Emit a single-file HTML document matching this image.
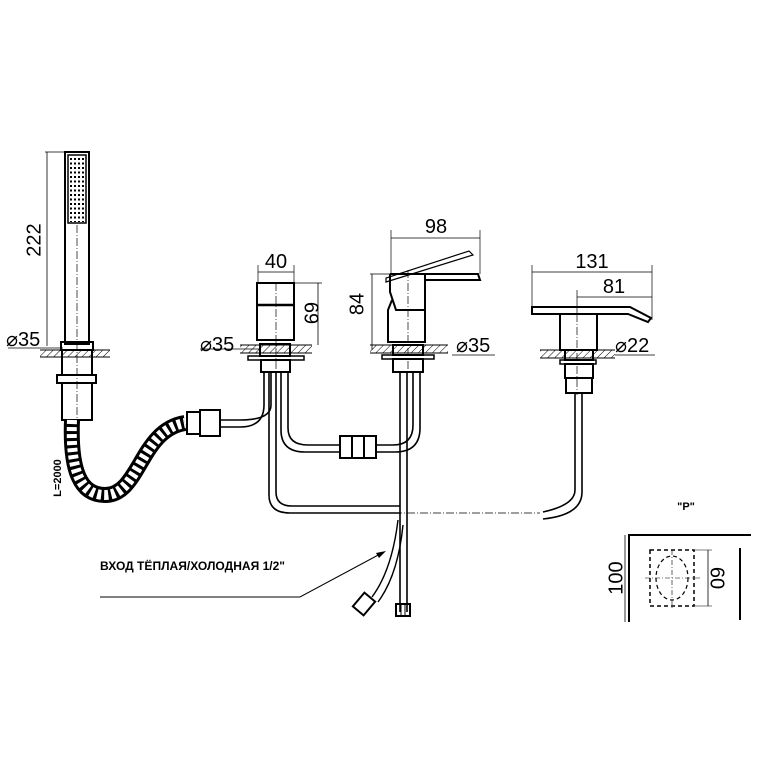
<!DOCTYPE html>
<html><head><style>html,body{margin:0;padding:0;background:#fff}svg{display:block}</style></head>
<body>
<svg width="768" height="768" viewBox="0 0 768 768" xmlns="http://www.w3.org/2000/svg" font-family="Liberation Sans, sans-serif">
<defs>
<pattern id="h" width="5" height="5" patternUnits="userSpaceOnUse" patternTransform="rotate(45)"><line x1="0" y1="0" x2="0" y2="5" stroke="#000" stroke-width="1"/></pattern>
</defs>
<g fill="none" stroke="#000" stroke-width="1">
<rect x="65" y="152" width="24" height="192" stroke-width="2"/>
<rect x="68" y="155" width="18" height="68" stroke-width="1.5"/>
<g stroke-width="2" stroke-dasharray="2,2.5">
<line x1="71" y1="158" x2="71" y2="222"/><line x1="75" y1="158" x2="75" y2="222"/><line x1="79" y1="158" x2="79" y2="222"/><line x1="83" y1="158" x2="83" y2="222"/>
</g>
<line x1="77" y1="225" x2="77" y2="420" stroke-dasharray="8,2,1,2" stroke-width="0.7"/>
<line x1="45" y1="152" x2="65" y2="152" stroke-width="0.7"/>
<line x1="47" y1="152" x2="47" y2="346" stroke-width="0.8"/>
<line x1="8" y1="348" x2="63" y2="348" stroke-width="0.8"/>
<rect x="40" y="350" width="70" height="7" fill="url(#h)" stroke="none"/>
<line x1="40" y1="350" x2="110" y2="350"/><line x1="40" y1="357" x2="110" y2="357"/>
<rect x="61" y="342" width="32" height="8" stroke-width="2"/>
<rect x="62" y="350" width="30" height="25" stroke-width="2"/>
<rect x="57" y="375" width="39" height="8" stroke-width="2"/>
<rect x="62" y="383" width="30" height="37" stroke-width="2"/>
<path d="M72 420 C70 470,80 495,105 495 C140 495,140 430,185 423" stroke-width="16" stroke="#000"/>
<path d="M72 420 C70 470,80 495,105 495 C140 495,140 430,185 423" stroke-width="10" stroke="#fff" stroke-dasharray="4,3"/>
<rect x="187" y="412" width="13" height="22" stroke-width="2"/>
<rect x="200" y="410" width="20" height="26" stroke-width="2"/>
<rect x="257" y="283" width="37" height="57" stroke-width="2"/>
<line x1="257" y1="305" x2="294" y2="305" stroke-width="2.5"/>
<line x1="276" y1="283" x2="276" y2="370" stroke-dasharray="8,2,1,2" stroke-width="0.7"/>
<line x1="258" y1="265" x2="258" y2="283" stroke-width="0.7"/><line x1="294" y1="265" x2="294" y2="283" stroke-width="0.7"/>
<line x1="258" y1="272" x2="294" y2="272" stroke-width="0.8"/>
<line x1="294" y1="283" x2="322" y2="283" stroke-width="0.7"/>
<line x1="318" y1="283" x2="318" y2="345" stroke-width="0.8"/>
<line x1="200" y1="349" x2="260" y2="349" stroke-width="0.8"/>
<rect x="240" y="345" width="72" height="8" fill="url(#h)" stroke="none"/>
<line x1="240" y1="345" x2="312" y2="345"/><line x1="240" y1="353" x2="312" y2="353"/>
<rect x="260" y="344" width="30" height="12" stroke-width="2"/>
<rect x="248" y="356" width="56" height="4" stroke-width="1.5"/>
<rect x="261" y="360" width="29" height="12" stroke-width="2"/>
<path d="M264 372 L264 405 Q264 427 240 427 L220 427" stroke-width="1.6"/>
<path d="M271 372 L271 405 Q271 420 240 420 L220 420" stroke-width="1.6"/>
<path d="M269 372 L269 495 Q269 513 290 513 L400 513" stroke-width="1.6"/>
<path d="M276 372 L276 492 Q276 506 292 506 L400 506" stroke-width="1.6"/>
<path d="M281 372 L281 430 Q281 452 305 452 L340 452" stroke-width="1.6"/>
<path d="M288 372 L288 428 Q288 445 308 445 L340 445" stroke-width="1.6"/>
<rect x="340" y="436" width="36" height="22" stroke-width="2"/>
<line x1="352" y1="436" x2="352" y2="458" stroke-width="2"/><line x1="364" y1="436" x2="364" y2="458" stroke-width="2"/>
<path d="M376 452 L395 452 Q420 452 420 428 L420 372" stroke-width="1.6"/>
<path d="M376 445 L393 445 Q413 445 413 425 L413 372" stroke-width="1.6"/>
<line x1="400" y1="372" x2="400" y2="612" stroke-width="1.6"/>
<line x1="407" y1="372" x2="407" y2="612" stroke-width="1.6"/>
<line x1="290" y1="513" x2="540" y2="513" stroke-dasharray="8,2,1,2" stroke-width="0.7"/>
<path d="M398 520 Q392 570 372 597" stroke-width="1.4"/>
<path d="M403 525 Q398 575 378 602" stroke-width="1.4"/>
<rect x="357" y="595" width="14" height="18" transform="rotate(40 364 604)" stroke-width="2"/>
<rect x="396" y="604" width="14" height="12" stroke-width="2"/>
<line x1="401" y1="604" x2="401" y2="616"/><line x1="405" y1="604" x2="405" y2="616"/>
<line x1="391" y1="230" x2="391" y2="274" stroke-width="0.7"/><line x1="480" y1="230" x2="480" y2="274" stroke-width="0.7"/>
<line x1="391" y1="238" x2="480" y2="238" stroke-width="0.8"/>
<path d="M390 274 L478 274 L480 280 L425 280" stroke-width="2"/>
<path d="M386 282 L473 255 L469 251 L386 278 Z" stroke-width="1.2"/>
<path d="M390 274 L390 292 L396 310 L425 310 L425 274" stroke-width="2"/>
<path d="M392 300 L388 310 L388 342 L425 342 L425 310" stroke-width="2"/>
<line x1="408" y1="270" x2="408" y2="372" stroke-dasharray="8,2,1,2" stroke-width="0.7"/>
<line x1="370" y1="274" x2="390" y2="274" stroke-width="0.7"/>
<line x1="372" y1="274" x2="372" y2="350" stroke-width="0.8"/>
<line x1="452" y1="355" x2="495" y2="355" stroke-width="0.8"/>
<rect x="370" y="345" width="78" height="8" fill="url(#h)" stroke="none"/>
<line x1="370" y1="345" x2="448" y2="345"/><line x1="370" y1="353" x2="448" y2="353"/>
<rect x="393" y="345" width="30" height="10" stroke-width="2"/>
<rect x="382" y="355" width="52" height="4" stroke-width="1.5"/>
<rect x="393" y="359" width="30" height="13" stroke-width="2"/>
<line x1="532" y1="265" x2="532" y2="306" stroke-width="0.7"/><line x1="652" y1="265" x2="652" y2="320" stroke-width="0.7"/>
<line x1="532" y1="272" x2="652" y2="272" stroke-width="0.8"/>
<line x1="577" y1="290" x2="577" y2="315" stroke-width="0.7"/>
<line x1="577" y1="297" x2="652" y2="297" stroke-width="0.8"/>
<path d="M532 307 L630 307 L651 318 L648 322 L628 314 L532 314 Z" stroke-width="2"/>
<rect x="560" y="314" width="37" height="36" stroke-width="2"/>
<line x1="577" y1="314" x2="577" y2="395" stroke-dasharray="8,2,1,2" stroke-width="0.7"/>
<line x1="615" y1="355" x2="655" y2="355" stroke-width="0.8"/>
<rect x="540" y="350" width="75" height="8" fill="url(#h)" stroke="none"/>
<line x1="540" y1="350" x2="615" y2="350"/><line x1="540" y1="358" x2="615" y2="358"/>
<rect x="565" y="350" width="28" height="10" stroke-width="2"/>
<rect x="560" y="360" width="36" height="4" stroke-width="1.5"/>
<rect x="565" y="364" width="28" height="14" stroke-width="2"/>
<rect x="566" y="378" width="26" height="15" stroke-width="2"/>
<path d="M575 393 L575 490 Q575 505 543 512" stroke-width="1.6"/>
<path d="M582 393 L582 492 Q582 515 543 519" stroke-width="1.6"/>
<path d="M629 622 L629 535 L751 535" stroke-width="2"/>
<line x1="740" y1="548" x2="740" y2="620" stroke-width="2"/>
<rect x="650" y="550" width="44" height="56" stroke-dasharray="4,3" stroke-width="1.5"/>
<ellipse cx="672" cy="578" rx="16" ry="22" stroke-dasharray="4,3" stroke-width="1.2"/>
<line x1="645" y1="578" x2="700" y2="578" stroke-dasharray="5,2,1,2" stroke-width="0.6"/>
<line x1="672" y1="550" x2="672" y2="608" stroke-dasharray="5,2,1,2" stroke-width="0.6"/>
<line x1="625" y1="535" x2="625" y2="622" stroke-width="0.8"/>
<line x1="694" y1="550" x2="712" y2="550" stroke-width="0.6"/><line x1="694" y1="606" x2="712" y2="606" stroke-width="0.6"/>
<line x1="708" y1="550" x2="708" y2="606" stroke-width="0.8"/>
<path d="M100 597 L300 597 L382 553" stroke-width="1"/>
</g>
<path d="M386 551 L376 553 L379 558 Z" fill="#000"/>
<g font-size="20" fill="#000">
<text x="35" y="240" transform="rotate(-90 35 240)" text-anchor="middle" dominant-baseline="middle">222</text>
<text x="6" y="346">⌀35</text>
<text x="276" y="268" text-anchor="middle">40</text>
<text x="310" y="313" transform="rotate(90 310 313)" text-anchor="middle" dominant-baseline="middle">69</text>
<text x="200" y="351">⌀35</text>
<text x="436" y="233" text-anchor="middle">98</text>
<text x="358" y="304" transform="rotate(-90 358 304)" text-anchor="middle" dominant-baseline="middle">84</text>
<text x="456" y="352">⌀35</text>
<text x="592" y="268" text-anchor="middle">131</text>
<text x="614" y="293" text-anchor="middle">81</text>
<text x="615" y="352">⌀22</text>
<text x="617" y="578" transform="rotate(-90 617 578)" text-anchor="middle" dominant-baseline="middle">100</text>
<text x="716" y="578" transform="rotate(90 716 578)" text-anchor="middle" dominant-baseline="middle">60</text>
</g>
<text x="58" y="478" font-size="11" font-weight="bold" transform="rotate(-90 58 478)" text-anchor="middle" dominant-baseline="middle">L=2000</text>
<text x="100" y="570" font-size="12" font-weight="bold" textLength="185" lengthAdjust="spacingAndGlyphs">ВХОД ТЁПЛАЯ/ХОЛОДНАЯ 1/2"</text>
<text x="686" y="510" font-size="11" font-weight="bold" text-anchor="middle">"P"</text>
</svg>
</body></html>
